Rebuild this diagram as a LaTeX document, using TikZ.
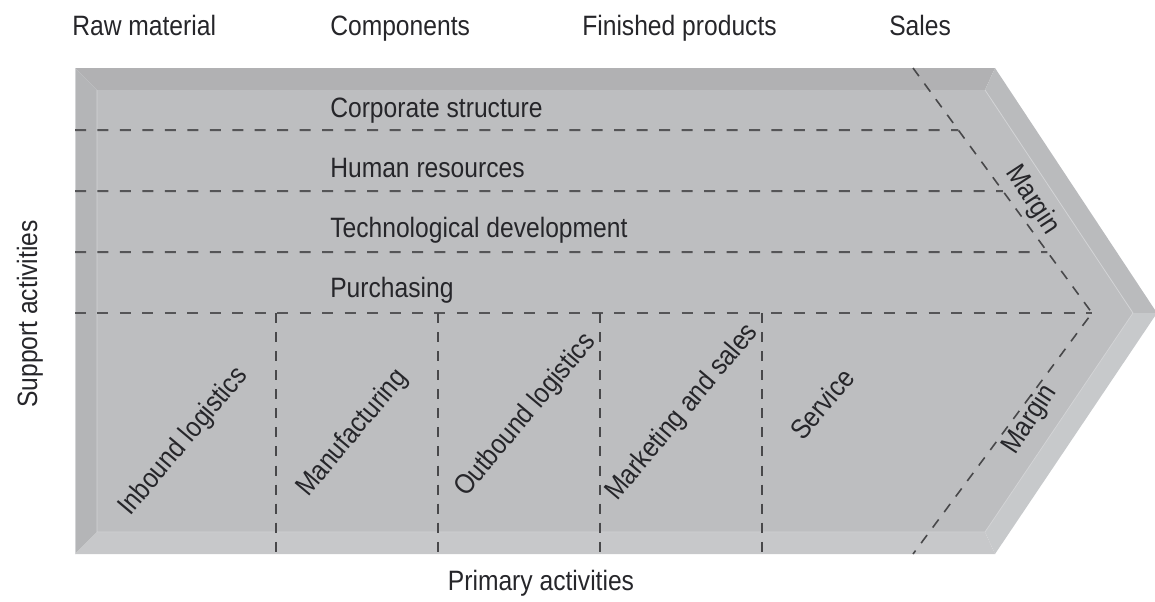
\documentclass[tikz,border=0pt]{standalone}
\usepackage{fontspec}
\setmainfont[FakeStretch=0.88]{Liberation Sans}
\usetikzlibrary{calc}
\definecolor{facegray}{RGB}{189,190,192}
\definecolor{topbevel}{RGB}{177,177,179}
\definecolor{leftbevel}{RGB}{180,181,183}
\definecolor{bottombevel}{RGB}{199,200,202}
\definecolor{rightupper}{RGB}{186,187,189}
\definecolor{rightlower}{RGB}{199,201,203}
\definecolor{edgelight}{RGB}{210,211,213}
\definecolor{dashgray}{RGB}{85,85,87}
\definecolor{textgray}{RGB}{38,38,42}
\begin{document}
\begin{tikzpicture}[x=0.75pt,y=-0.75pt,
  lbl/.style={text=textgray,font=\fontsize{21}{25}\selectfont,inner sep=0pt},
  rowlbl/.style={lbl,anchor=base west},
  actlbl/.style={lbl,anchor=base west,rotate=50},
  hdash/.style={draw=dashgray,line width=1.5pt,dash pattern=on 8.25pt off 8.6pt},
  vdash/.style={draw=dashgray!85!black,line width=1.2pt,dash pattern=on 7.5pt off 6.8pt},
  ddash/.style={draw=dashgray!85!black,line width=1.2pt,dash pattern=on 7.5pt off 7pt}]
\useasboundingbox (0,0) rectangle (1155,601);

% outer and inner outline of the arrow
\coordinate (A) at (75,68);   \coordinate (B) at (995,68);
\coordinate (T) at (1157,313); \coordinate (C) at (995,554);
\coordinate (D) at (75,554);
\coordinate (a) at (97,90);   \coordinate (b) at (985,90);
\coordinate (t) at (1133,313); \coordinate (c) at (985,532);
\coordinate (d) at (97,532);

% bevels and face
\fill[topbevel] (A) -- (B) -- (b) -- (a) -- cycle;
\fill[leftbevel] (A) -- (a) -- (d) -- (D) -- cycle;
\fill[bottombevel] (D) -- (d) -- (c) -- (C) -- cycle;
\fill[rightupper] (B) -- (T) -- (t) -- (b) -- cycle;
\fill[rightlower] (T) -- (C) -- (c) -- (t) -- cycle;
\fill[facegray] (a) -- (b) -- (t) -- (c) -- (d) -- cycle;
\draw[edgelight,line width=0.6pt] (a) -- (d) -- (c) -- (t);
\draw[edgelight,line width=0.6pt] (b) -- (t);
\draw[edgelight,line width=0.5pt] (A) -- (D);

% margin boundary
\coordinate (m1) at (913,68);
\coordinate (m2) at (1092,313);
\coordinate (m3) at (913,554);
\draw[ddash] (m1) -- (m2) -- (m3);

% support activity rows
\foreach \y/\n in {130/1,191/2,252/3,313/4}{
  \coordinate (l\n) at (75,\y);
  \coordinate (r\n) at ($(m1)!{(\y-68)/245}!(m2)$);
  \draw[hdash] (l\n) -- (r\n);
}

% primary activity columns
\foreach \x/\n in {276/1,438/2,600/3,762/4}{
  \coordinate (vt\n) at (\x,313);
  \coordinate (vb\n) at (\x,554);
  \draw[vdash] (vt\n) -- (vb\n);
}

% stage headings
\node[rowlbl] (raw) at (72,35) {Raw material};
\node[rowlbl] (comp) at (330,35) {Components};
\node[rowlbl] (fin) at (582,35) {Finished products};
\node[rowlbl] (sales) at (889,35) {Sales};

% support activities
\node[rowlbl] (corp) at (330,117) {Corporate structure};
\node[rowlbl] (hr) at (330,177) {Human resources};
\node[rowlbl] (tech) at (330,237) {Technological development};
\node[rowlbl] (purch) at (330,297) {Purchasing};

% primary activities
\node[actlbl] (inb) at (130,517) {Inbound logistics};
\node[actlbl] (manu) at (308,498) {Manufacturing};
\node[actlbl] (outb) at (466,498) {Outbound logistics};
\node[actlbl] (mark) at (617,502) {Marketing and sales};
\node[actlbl] (serv) at (803,442) {Service};

% margins
\node[lbl,rotate=-56.8] (mtop) at (1032,200) {Margin};
\node[lbl,rotate=56.8] (mbot) at (1030,420) {Margin};

% axis captions
\node[lbl,rotate=90] (supp) at (30,314) {Support activities};
\node[lbl] (prim) at (541,583) {Primary activities};
\end{tikzpicture}
\end{document}
